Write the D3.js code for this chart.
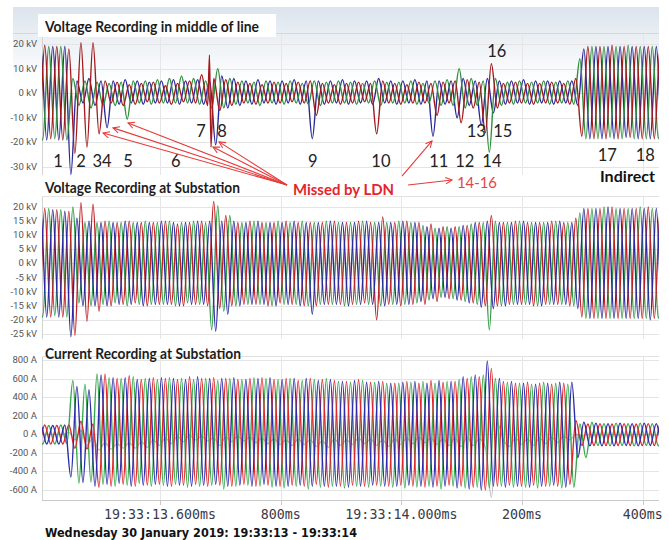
<!DOCTYPE html>
<html>
<head>
<meta charset="utf-8">
<script src="https://cdn.jsdelivr.net/npm/d3@7"></script>
<style>
  body { margin: 0; background: #fff; }
  svg { display: block; }
</style>
</head>
<body>
<svg id="chart" width="669" height="540"></svg>
<script>
// ---- time axis (ms after 19:33:13) ----
const timeDomain = [404.5, 1426.8];
const timeTicks = [600, 800, 1000, 1200, 1400];
const timeTickLabels = ["19:33:13.600ms", "800ms", "19:33:14.000ms", "200ms", "400ms"];

// every phase is stored as its successive half-cycle peaks (10 ms apart),
// beginning at these instants
const halfCycle = 10;
const phaseStart = { red: 389, green: 395.67, blue: 392.33, gray: 389 };

// ---- voltage recorded in the middle of the line (kV) ----
const midTicks = [20, 10, 0, -10, -20, -30];
const midRed = [
  19, -19, 19.5, -18.5, 19, -19, 18, -24.5, 20.5, -22,
  20.5, -16.5, 5, -4, 4.5, -5, 3.5, -4.5, 4, -3.5,
  4.5, -4, 3, -4.5, 4, -3.5, 5, -4, 7.5, -5,
  6, -7, 5.5, -5, 4.5, -4, 4, -4.5, 3.5, -4,
  4.5, -4, 4, -3.5, 4.5, -4, 5, -9, 4, -4,
  3.5, -4.5, 4, -4, 4.5, -3.5, 4, -16.5, 5, -4,
  4, -4.5, 3.5, -4, 4.5, -4, 4, -9, 4.5, -4,
  5, -12, 5.5, -6, 4.5, -16, 12, -6, 4, -4,
  4.5, -4, 4, -4.5, 4, -4, 4.5, -4, 4, -4.5,
  6, -17.5, 19, -18.5, 19, -18.5, 19.5, -18.5, 19, -18,
  19, -18.5, 19, -18.5, 19, -18.5
];
const midGreen = [
  19, -19, 19, -18.5, 19, -19, 6, -5, 5, -6,
  4.5, -5, 4, -5, 4.5, -10.5, 5, -4, 5, -4.5,
  5.5, -4, 6, -4, 7, -4, 6, -4.5, 5, -6,
  10, -6, 6, -4.5, 5, -4, 4.5, -5, 5, -4,
  4.5, -4.5, 5, -4, 4, -4.5, 5, -5, 4.5, -4,
  5, -4, 4.5, -4.5, 4, -4, 5, -5, 4.5, -4,
  4.5, -4, 5, -4.5, 4, -4, 5, -5, 5.5, -5,
  10, -6, 6, -5, 5, -24, 6, -5, 4.5, -4.5,
  5, -4, 4.5, -4, 5, -4.5, 4.5, -4, 5, -4.5,
  14, -18.5, 19, -18.5, 19, -18, 19, -18.5, 19.5, -18.5,
  19, -18.5, 19, -18.5, 19, -18.5
];
const midBlue = [
  -19, 19, -19, 19, -19, 19, -33, 5, -4, 6,
  -5, 5, -14, 5, -4.5, 5.5, -4, 5, -4.5, 4.5,
  -4, 5, -4, 5.5, -4.5, 5, -4, 5.5, -4.5, 5,
  -21, 7, -6, 6, -5, 5, -4.5, 5.5, -4, 5,
  -4.5, 5, -4, 5.5, -4.5, 5, -18.5, 5, -4.5, 5,
  -4, 5.5, -4.5, 5, -4, 5, -4.5, 6, -4, 5,
  -4.5, 5, -4, 5.5, -4.5, 5, -17.5, 5, -4.5, 5,
  -10, 6, -5, 5, -13, 6, -8, 5, -4.5, 5,
  -4, 5.5, -4.5, 5, -4, 5, -4.5, 5, -4, 5,
  -5, 18, -18.5, 19, -18.5, 19, -18.5, 19, -18, 19,
  -18.5, 19, -18.5, 19, -18.5, 19
];
const midRedSpikes = [[682, 15.5], [684.5, -22]];

// ---- voltage recorded at the substation (kV) ----
const subTicks = [20, 15, 10, 5, 0, -5, -10, -15, -20, -25];
const subRed = [
  19, -19, 19.5, -19, 19, -19, 18.5, -25.5, 21.5, -20.5,
  21, -17, 15, -15, 14.5, -14.5, 15, -14, 14.5, -15,
  14.5, -14.5, 15, -14.5, 14, -15, 14.5, -14.5, 15, -15,
  22, -16, 17, -15, 14.5, -14.5, 15, -14.5, 14.5, -15,
  14.5, -14, 15, -14.5, 14.5, -15, 14.5, -15, 14.5, -14.5,
  15, -14.5, 14.5, -14.5, 15, -14, 14.5, -20, 16.5, -14.5,
  14.5, -15, 15, -14.5, 14.5, -14.5, 14, -13.5, 13, -12.5,
  13, -13, 13.5, -14, 14.5, -15, 17, -15, 14.5, -14.5,
  15, -14.5, 14.5, -15, 14.5, -14.5, 15, -14.5, 14.5, -15,
  16, -19, 19.5, -19.5, 19.5, -19.5, 20, -19.5, 19.5, -19.5,
  19.5, -19.5, 20, -19.5, 19.5, -19.5
];
const subGreen = [
  19, -19, 19.5, -18.5, 19, -19, 20, -14, 14.5, -15,
  14.5, -14.5, 15, -14, 14.5, -15, 14.5, -14.5, 15, -14.5,
  14.5, -14.5, 15, -15, 14.5, -14, 15, -14.5, 14.5, -23.5,
  20.5, -17, 17, -15, 14.5, -14.5, 15, -14.5, 14.5, -15,
  15, -14.5, 14.5, -14.5, 15, -15, 14.5, -14.5, 15, -14.5,
  14.5, -15, 14.5, -14.5, 15, -14.5, 14.5, -15, 14.5, -14.5,
  15, -14.5, 14.5, -14, 13.5, -13, 12.5, -12, 13, -12.5,
  13, -13.5, 14, -14.5, 14.5, -23.5, 15, -15, 14.5, -14.5,
  15, -14.5, 14.5, -15, 14.5, -14.5, 15, -14.5, 14.5, -15,
  18, -19.5, 19.5, -19.5, 20, -19.5, 19.5, -19.5, 19.5, -19.5,
  20, -19.5, 19.5, -19.5, 19.5, -19.5
];
const subBlue = [
  -19, 19, -19, 19, -19, 18.5, -26, 16, -15, 15,
  -15, 14.5, -15, 14.5, -14.5, 15, -14.5, 14.5, -15, 14.5,
  -14.5, 15, -14.5, 14.5, -15, 14.5, -14.5, 15, -14.5, 15,
  -24, 15, -18, 15, -15, 14.5, -14.5, 15, -14.5, 14.5,
  -15, 14.5, -14.5, 15, -15, 14.5, -18, 14.5, -14.5, 15,
  -14.5, 14.5, -15, 14.5, -14.5, 15, -14.5, 14.5, -15, 14.5,
  -14.5, 15, -14.5, 14.5, -13.5, 13, -12.5, 12.5, -12, 12.5,
  -13, 13.5, -14, 14.5, -15.5, 15, -16, 14.5, -15, 14.5,
  -14.5, 15, -14.5, 14.5, -15, 14.5, -14.5, 15, -14.5, 14.5,
  -16, 19.5, -19.5, 19.5, -19.5, 20, -19.5, 19.5, -19.5, 19.5,
  -19.5, 19.5, -20, 19.5, -19.5, 19.5
];

// ---- current recorded at the substation (A) ----
const curTicks = [800, 600, 400, 200, 0, -200, -400, -600];
const curRed = [
  95, -105, 100, -105, 95, -105, 100, -150, 140, -160,
  110, -570, 650, -560, 600, -540, 630, -560, 590, -550,
  610, -540, 600, -560, 590, -550, 620, -540, 600, -560,
  610, -550, 600, -560, 590, -540, 600, -560, 610, -550,
  590, -560, 600, -550, 580, -560, 600, -540, 590, -570,
  580, -560, 570, -550, 590, -560, 560, -550, 570, -560,
  550, -550, 570, -560, 550, -570, 580, -560, 560, -550,
  570, -560, 600, -570, 620, -600, 710, -560, 570, -550,
  550, -560, 560, -550, 550, -560, 540, -560, 550, -540,
  150, -120, 110, -120, 115, -120, 110, -120, 115, -120,
  110, -120, 115, -120, 110, -120
];
const curGreen = [
  100, -105, 95, -105, 100, -100, 580, -527, 540, -515,
  650, -540, 610, -560, 600, -550, 620, -530, 600, -560,
  590, -550, 610, -540, 600, -570, 590, -560, 600, -550,
  580, -590, 600, -560, 590, -550, 610, -560, 600, -570,
  590, -580, 600, -560, 580, -590, 590, -570, 600, -560,
  570, -580, 560, -560, 580, -570, 560, -560, 550, -570,
  550, -580, 560, -570, 570, -560, 550, -590, 570, -560,
  590, -580, 620, -570, 640, -580, 600, -560, 560, -570,
  550, -570, 540, -580, 560, -560, 550, -580, 540, -570,
  110, -250, 130, -120, 115, -125, 120, -120, 115, -125,
  120, -120, 115, -125, 120, -120
];
const curBlue = [
  -105, 100, -105, 95, -105, 100, -460, 515, -520, 480,
  -560, 640, -540, 610, -530, 610, -560, 590, -550, 600,
  -540, 610, -560, 600, -550, 590, -560, 620, -550, 600,
  -540, 600, -560, 610, -550, 590, -560, 600, -540, 610,
  -560, 590, -560, 600, -550, 600, -560, 580, -560, 590,
  -560, 570, -570, 580, -560, 560, -550, 570, -560, 550,
  -560, 560, -550, 570, -560, 550, -570, 580, -560, 570,
  -580, 620, -590, 640, -600, 790, -560, 600, -570, 570,
  -560, 550, -570, 540, -560, 550, -550, 560, -570, 560,
  -250, 130, -125, 120, -125, 115, -125, 120, -120, 115,
  -125, 120, -120, 115, -125, 120
];
const curResidual = [
  0, 0, 0, 0, 0, 0, 20, -60, 40, -120,
  -40, -170, -90, -160, -100, -150, -90, -150, -80, -140,
  -60, -120, -40, -100, -20, -80, -10, -60, -20, -70,
  -40, -120, -30, -80, -20, -70, -30, -90, -40, -100,
  -50, -110, -60, -120, -50, -110, -60, -130, -70, -140,
  -50, -120, -60, -110, -40, -100, -50, -120, -60, -130,
  -50, -110, -40, -100, -30, -90, -40, -110, -50, -120,
  -40, -130, -30, -120, -50, -140, -680, 120, -60, -130,
  -40, -110, -50, -120, -40, -100, -30, -90, -20, -60,
  0, -20, 0, -10, 0, -10, 0, -10, 0, -10,
  0, -10, 0, -10, 0, -10
];

// ---- annotations on the mid-line panel: [text, ms, kV] ----
const eventLabels = [
  ["1", 431, -30], ["2", 469, -30], ["34", 504, -30], ["5", 547, -30], ["6", 626, -30],
  ["7", 668, -18], ["8", 703, -18], ["9", 853, -30], ["10", 966, -30], ["11", 1062, -30],
  ["12", 1105, -30], ["14", 1150, -30], ["13", 1124, -18], ["15", 1168, -18], ["16", 1158, 14.7],
  ["17", 1341, -27.6], ["18", 1404, -27.6]
];
// missed events: arrow tips [ms, kV]
const missedTips = [[505.6, -16.2], [522.1, -14.1], [547, -12.1], [687.8, -21.9], [697.8, -19.8]];
const missedOrigin = [810.5, -37.3];

// ---- layout ----
const W = 669, H = 540;
const plotLeft = 42, plotRight = 659;
const svg = d3.select("#chart");

const x = d3.scaleLinear().domain(timeDomain).range([plotLeft, plotRight]);

const panels = [
  { key: "mid", title: "Voltage Recording in middle of line", titleX: 45, titleY: 32, titleW: 214,
    ticks: midTicks, unit: " kV", y: d3.scaleLinear().domain([-30, 20]).range([167, 44]),
    top: 33, bottom: 175,
    series: [
      { data: midBlue, start: phaseStart.blue, color: "#282899" },
      { data: midGreen, start: phaseStart.green, color: "#2f8d3d" },
      { data: midRed, start: phaseStart.red, color: "#a11a1e", spikes: midRedSpikes }
    ] },
  { key: "sub", title: "Voltage Recording at Substation", titleX: 45, titleY: 193, titleW: 195,
    ticks: subTicks, unit: " kV", y: d3.scaleLinear().domain([-25, 20]).range([334, 207]),
    top: 196, bottom: 339,
    series: [
      { data: subGreen, start: phaseStart.green, color: "#2e9a44" },
      { data: subRed, start: phaseStart.red, color: "#c02127" },
      { data: subBlue, start: phaseStart.blue, color: "#2a2a9f" }
    ] },
  { key: "cur", title: "Current Recording at Substation", titleX: 45, titleY: 359, titleW: 196,
    ticks: curTicks, unit: " A", y: d3.scaleLinear().domain([-600, 800]).range([490, 360]),
    top: 356, bottom: 500,
    series: [
      { data: curResidual, start: phaseStart.gray, color: "#b9b9b9", width: 1.2 },
      { data: curGreen, start: phaseStart.green, color: "#35a84b" },
      { data: curRed, start: phaseStart.red, color: "#df272b" },
      { data: curBlue, start: phaseStart.blue, color: "#2d2dab" }
    ] }
];

// header shading of the upper panel
const defs = svg.append("defs");
const grad = defs.append("linearGradient").attr("id", "hdr").attr("x1", 0).attr("y1", 0).attr("x2", 0).attr("y2", 1);
grad.append("stop").attr("offset", 0).attr("stop-color", "#dce3ec");
grad.append("stop").attr("offset", 0.35).attr("stop-color", "#e9eef3");
grad.append("stop").attr("offset", 1).attr("stop-color", "#ffffff");
svg.append("rect").attr("x", 13).attr("y", 7).attr("width", 646).attr("height", 75).attr("fill", "url(#hdr)");

const marker = defs.append("marker").attr("id", "arr").attr("viewBox", "0 0 10 10")
  .attr("refX", 9).attr("refY", 5).attr("markerWidth", 8).attr("markerHeight", 8)
  .attr("markerUnits", "userSpaceOnUse").attr("orient", "auto");
marker.append("path").attr("d", "M1,1 L9,5 L1,9").attr("fill", "none").attr("stroke", "#e63a3a").attr("stroke-width", 1.3);

const line = d3.line().x(d => x(d[0])).curve(d3.curveMonotoneX);

function peaksToPoints(s) {
  const pts = s.data.map((v, i) => [s.start + i * halfCycle, v]);
  (s.spikes || []).forEach(p => pts.push(p));
  pts.sort((a, b) => a[0] - b[0]);
  return pts;
}

panels.forEach((p, pi) => {
  const g = svg.append("g");
  defs.append("clipPath").attr("id", "clip-" + p.key)
    .append("rect").attr("x", plotLeft).attr("y", p.top).attr("width", plotRight - plotLeft).attr("height", p.bottom - p.top);

  // grid
  g.selectAll(".hg").data(p.ticks).join("line")
    .attr("x1", plotLeft).attr("x2", plotRight)
    .attr("y1", d => Math.round(p.y(d)) + 0.5).attr("y2", d => Math.round(p.y(d)) + 0.5)
    .attr("stroke", "#e4e4e4").attr("stroke-width", 1);
  g.selectAll(".vg").data(timeTicks).join("line")
    .attr("x1", d => Math.round(x(d)) + 0.5).attr("x2", d => Math.round(x(d)) + 0.5)
    .attr("y1", p.top).attr("y2", p.bottom)
    .attr("stroke", "#e6e6e6").attr("stroke-width", 1);
  g.append("line").attr("x1", plotLeft + 0.5).attr("x2", plotLeft + 0.5)
    .attr("y1", p.top).attr("y2", p.bottom).attr("stroke", "#d2d2d2");
  g.append("line").attr("x1", pi === 0 ? 13 : plotLeft).attr("x2", plotRight)
    .attr("y1", p.top + 0.5).attr("y2", p.top + 0.5).attr("stroke", pi === 0 ? "#d3d8de" : "#e2e2e2");

  // y tick labels
  g.selectAll(".yl").data(p.ticks).join("text")
    .attr("x", 37).attr("y", d => p.y(d) + 3)
    .attr("text-anchor", "end")
    .attr("font-family", "'Liberation Sans Narrow', 'Roboto', sans-serif")
    .attr("font-size", 9.5).attr("fill", "#555")
    .text(d => d + p.unit);

  // traces
  const tg = g.append("g").attr("clip-path", `url(#clip-${p.key})`);
  p.series.forEach(s => {
    tg.append("path")
      .attr("d", line.y(d => p.y(d[1]))(peaksToPoints(s)))
      .attr("fill", "none").attr("stroke", s.color)
      .attr("stroke-width", s.width || 1.4).attr("stroke-linejoin", "round");
  });

  // title
  if (pi === 0) {
    g.append("rect").attr("x", 38).attr("y", 14).attr("width", 238).attr("height", 23).attr("fill", "#fff");
  }
  g.append("text").attr("x", p.titleX).attr("y", p.titleY)
    .attr("font-family", "Lato, 'Open Sans', sans-serif").attr("font-weight", 700)
    .attr("font-size", 15).attr("fill", "#1c1c1c")
    .attr("textLength", p.titleW).attr("lengthAdjust", "spacingAndGlyphs")
    .text(p.title);
});

// time axis under the current panel
const cur = panels[2];
svg.append("line").attr("x1", plotLeft).attr("x2", plotRight).attr("y1", 500.5).attr("y2", 500.5).attr("stroke", "#c9c9c9");
svg.selectAll(".xt").data(timeTicks).join("line")
  .attr("x1", d => Math.round(x(d)) + 0.5).attr("x2", d => Math.round(x(d)) + 0.5)
  .attr("y1", 500).attr("y2", 505).attr("stroke", "#c9c9c9");
svg.selectAll(".xl").data(timeTicks).join("text")
  .attr("x", d => x(d)).attr("y", 518.5).attr("text-anchor", "middle")
  .attr("font-family", "'DejaVu Sans Mono', monospace").attr("font-size", 13.3).attr("fill", "#3b3a48")
  .text((d, i) => timeTickLabels[i]);
svg.append("text").attr("x", 45).attr("y", 537)
  .attr("font-family", "'DejaVu Sans', sans-serif").attr("font-weight", 700).attr("font-size", 12.5).attr("fill", "#111")
  .attr("textLength", 312).attr("lengthAdjust", "spacingAndGlyphs")
  .text("Wednesday 30 January 2019: 19:33:13 - 19:33:14");

// event numbers on the mid-line panel
const ym = panels[0].y;
svg.selectAll(".ev").data(eventLabels).join("text")
  .attr("x", d => x(d[1])).attr("y", d => ym(d[2])).attr("text-anchor", "middle")
  .attr("font-family", "Lato, 'Open Sans', sans-serif").attr("font-size", 16.5).attr("fill", "#222")
  .text(d => d[0]);
svg.append("text").attr("x", x(1329)).attr("y", ym(-36.1))
  .attr("font-family", "Lato, 'Open Sans', sans-serif").attr("font-weight", 700).attr("font-size", 15).attr("fill", "#111")
  .attr("textLength", 55).attr("lengthAdjust", "spacingAndGlyphs")
  .text("Indirect");

// arrows to the events that were not located
const arrows = svg.append("g").attr("stroke", "#e63a3a").attr("stroke-width", 1.1).attr("fill", "none");
missedTips.forEach(t => {
  arrows.append("line")
    .attr("x1", x(missedOrigin[0])).attr("y1", ym(missedOrigin[1]))
    .attr("x2", x(t[0])).attr("y2", ym(t[1]))
    .attr("marker-end", "url(#arr)");
});
arrows.append("line").attr("x1", x(1001)).attr("y1", ym(-33.7)).attr("x2", x(1050.7)).attr("y2", ym(-19.4)).attr("marker-end", "url(#arr)");
arrows.append("line").attr("x1", x(1011)).attr("y1", ym(-37.3)).attr("x2", x(1083.9)).attr("y2", ym(-35.3)).attr("marker-end", "url(#arr)");

svg.append("text").attr("x", x(820.4)).attr("y", ym(-41.4))
  .attr("font-family", "Lato, 'Open Sans', sans-serif").attr("font-weight", 700).attr("font-size", 16).attr("fill", "#e3262b")
  .attr("textLength", 101).attr("lengthAdjust", "spacingAndGlyphs")
  .text("Missed by LDN");
svg.append("text").attr("x", x(1092)).attr("y", ym(-38.5))
  .attr("font-family", "Lato, 'Open Sans', sans-serif").attr("font-size", 15).attr("fill", "#e14545")
  .attr("textLength", 40).attr("lengthAdjust", "spacingAndGlyphs")
  .text("14-16");
</script>
</body>
</html>
